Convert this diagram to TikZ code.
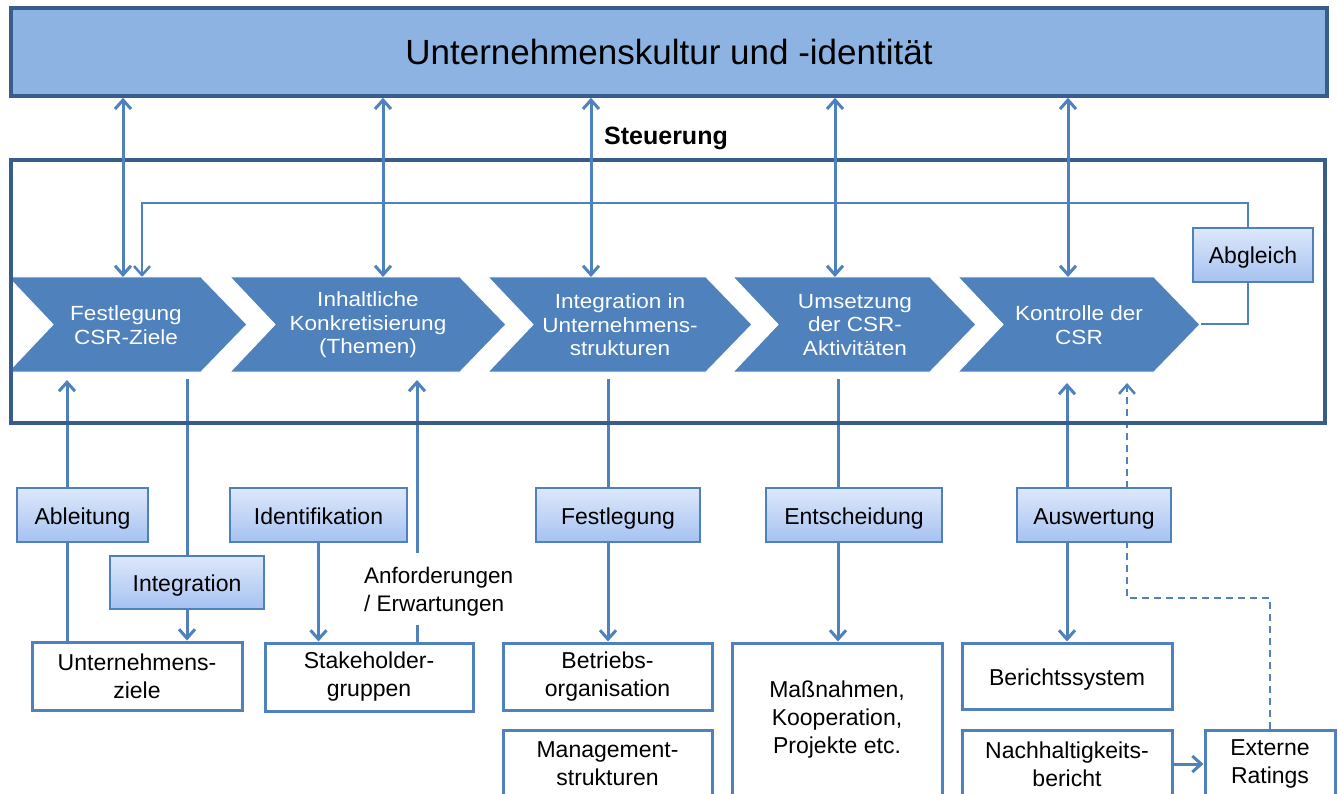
\documentclass[tikz,border=0pt]{standalone}
\usepackage{fontspec}
\setmainfont{Liberation Sans}
\newfontfamily\chevfont[FakeStretch=1.1]{Liberation Sans}
\usetikzlibrary{arrows.meta,calc}
\definecolor{csrblue}{HTML}{4F81BD}
\definecolor{csrdark}{HTML}{385D8A}
\definecolor{csrlight}{HTML}{8DB3E2}
\definecolor{gradtop}{HTML}{DDE8FB}
\definecolor{gradbot}{HTML}{A6C2F1}
\pgfdeclarelayer{background}
\pgfsetlayers{background,main}
% one process step as an arrow-shaped polygon: left edge, tip
\newcommand\chevronshape[2]{%
  \fill[chev] (#1,277) -- ({#2-46},277) -- (#2,324.5) -- ({#2-46},372)
    -- (#1,372) -- ({#1+45},324.5) -- cycle;}
\begin{document}
\begin{tikzpicture}[x=1pt,y=-1pt,
  conn/.style={draw=csrblue, line width=3pt},
  vtip/.tip={Straight Barb[length=9pt,width=16pt]},
  arr/.style={conn, -vtip},
  darr/.style={conn, vtip-vtip},
  chev/.style={fill=csrblue, draw=white, line width=1pt},
  chevtext/.style={text=white, align=center, inner sep=0pt,
    font=\chevfont\fontsize{20.5}{23.5}\selectfont},
  topbox/.style={draw=csrdark, line width=3.5pt, fill=csrlight,
    minimum width=1316pt, minimum height=88pt,
    font=\fontsize{35}{40}\selectfont},
  framebox/.style={draw=csrdark, line width=3.5pt,
    minimum width=1314pt, minimum height=263pt},
  gbox/.style={draw=csrblue, line width=2.5pt, top color=gradtop,
    bottom color=gradbot, inner sep=0pt, minimum height=54pt,
    text height=18pt, text depth=0pt,
    font=\fontsize{23}{28}\selectfont},
  wbox/.style={draw=csrblue, line width=3pt, fill=white, align=center,
    inner sep=0pt, font=\fontsize{23}{28}\selectfont},
  lbl/.style={align=left, inner sep=0pt, font=\fontsize{22.5}{28}\selectfont}
]
\useasboundingbox (0,0) rectangle (1338,794);
\clip (0,0) rectangle (1338,794);

% culture bar and steering frame
\node[topbox] (kultur) at (669,52) {Unternehmenskultur und -identität};
\node[font=\bfseries\fontsize{25}{30}\selectfont] (steu) at (666,138) {Steuerung};

% process chain
\chevronshape{8}{247}
\chevronshape{230}{506}
\chevronshape{488}{752}
\chevronshape{733}{976}
\chevronshape{958}{1200}
\node[framebox] (frame) at (668,291.5) {};
\node[chevtext] (ch1) at (126,325) {Festlegung\\CSR-Ziele};
\node[chevtext] (ch2) at (368,325) {Inhaltliche\\Konkretisierung\\(Themen)};
\node[chevtext] (ch3) at (620,325) {Integration in\\Unternehmens-\\strukturen};
\node[chevtext] (ch4) at (855,325) {Umsetzung\\der CSR-\\Aktivitäten};
\node[chevtext] (ch5) at (1079,325) {Kontrolle der\\CSR};

% activity boxes
\node[gbox, minimum width=120pt] (abg) at (1253,255) {Abgleich};
\node[gbox, minimum width=131pt] (abl) at (82.5,515) {Ableitung};
\node[gbox, minimum width=154pt, minimum height=53pt] (integ) at (187,582.5) {Integration};
\node[gbox, minimum width=177pt] (ident) at (318.5,515) {Identifikation};
\node[gbox, minimum width=164pt] (fest) at (618,515) {Festlegung};
\node[gbox, minimum width=176pt] (ent) at (854,515) {Entscheidung};
\node[gbox, minimum width=154pt] (ausw) at (1094,515) {Auswertung};

% result boxes
\node[wbox, minimum width=210pt, minimum height=68pt] (ziele) at (137,676) {Unternehmens-\\ziele};
\node[wbox, minimum width=208pt, minimum height=68pt] (stake) at (369,677) {Stakeholder-\\gruppen};
\node[wbox, minimum width=209pt, minimum height=67pt] (betrieb) at (607.5,676.5) {Betriebs-\\organisation};
\node[wbox, minimum width=209pt, minimum height=67pt] (mgmt) at (607.5,763.5) {Management-\\strukturen};
\node[wbox, minimum width=210pt, minimum height=154pt] (mass) at (837,720) {Maßnahmen,\\Kooperation,\\Projekte etc.};
\node[wbox, minimum width=210pt, minimum height=66pt, text height=18pt, text depth=0pt] (ber) at (1067,676) {Berichtssystem};
\node[wbox, minimum width=210pt, minimum height=68pt] (nach) at (1067,764) {Nachhaltigkeits-\\bericht};
\node[wbox, minimum width=130pt, minimum height=68pt] (ext) at (1270,764) {Externe\\Ratings};
\node[lbl, anchor=west] (anf) at (364,592) {Anforderungen\\/ Erwartungen};

% attachment points on the process chain
\coordinate (t1) at (123,277);
\coordinate (t2) at (383,277);
\coordinate (t3) at (591,277);
\coordinate (t4) at (835,277);
\coordinate (t5) at (1068,277);
\coordinate (fbtip) at (142,277);
\coordinate (fbtop) at (142,203);
\coordinate (c5tip) at (1201,324);
\coordinate (fbx) at (1248,324);
\coordinate (b1) at (67,380);
\coordinate (b2) at (187,379);
\coordinate (b3) at (417,380);
\coordinate (b4) at (608,379);
\coordinate (b5) at (838,379);
\coordinate (b6) at (1067,383);
\coordinate (b7) at (1127,383);
\coordinate (anfL) at (417,625);
\coordinate (anfU) at (417,553);
\coordinate (dturn) at (1127,598);

\begin{pgfonlayer}{background}
  % feedback loop via Abgleich
  \draw[conn, line width=2.5pt] (c5tip) -- (fbx) -- (fbx |- abg.south);
  \draw[arr, line width=2.5pt] (fbx |- abg.north) |- (fbtop) -- (fbtip);
  % lower links
  \draw[conn] (b1 |- ziele.north) -- (b1 |- abl.south);
  \draw[arr] (b1 |- abl.north) -- (b1);
  \draw[conn] (b2) -- (integ.north);
  \draw[arr] (integ.south) -- (integ.south |- ziele.north);
  \draw[arr] (ident.south) -- (ident.south |- stake.north);
  \draw[conn] (b3 |- stake.north) -- (anfL);
  \draw[arr] (anfU) -- (b3);
  \draw[conn] (b4) -- (b4 |- fest.north);
  \draw[arr] (b4 |- fest.south) -- (b4 |- betrieb.north);
  \draw[conn] (b5) -- (b5 |- ent.north);
  \draw[arr] (b5 |- ent.south) -- (b5 |- mass.north);
  \draw[arr] (b6 |- ausw.north) -- (b6);
  \draw[arr] (b6 |- ausw.south) -- (b6 |- ber.north);
  \draw[arr] (nach.east) -- (nach.east -| ext.west);
  \draw[arr, line width=2.5pt, dash pattern=on 7pt off 5pt] (ext.north) |- (dturn) -- (b7);
\end{pgfonlayer}

% culture <-> steps, drawn across the frame border
\foreach \t in {t1,t2,t3,t4,t5}
  \draw[darr] (kultur.south -| \t) -- (\t);
\end{tikzpicture}
\end{document}
